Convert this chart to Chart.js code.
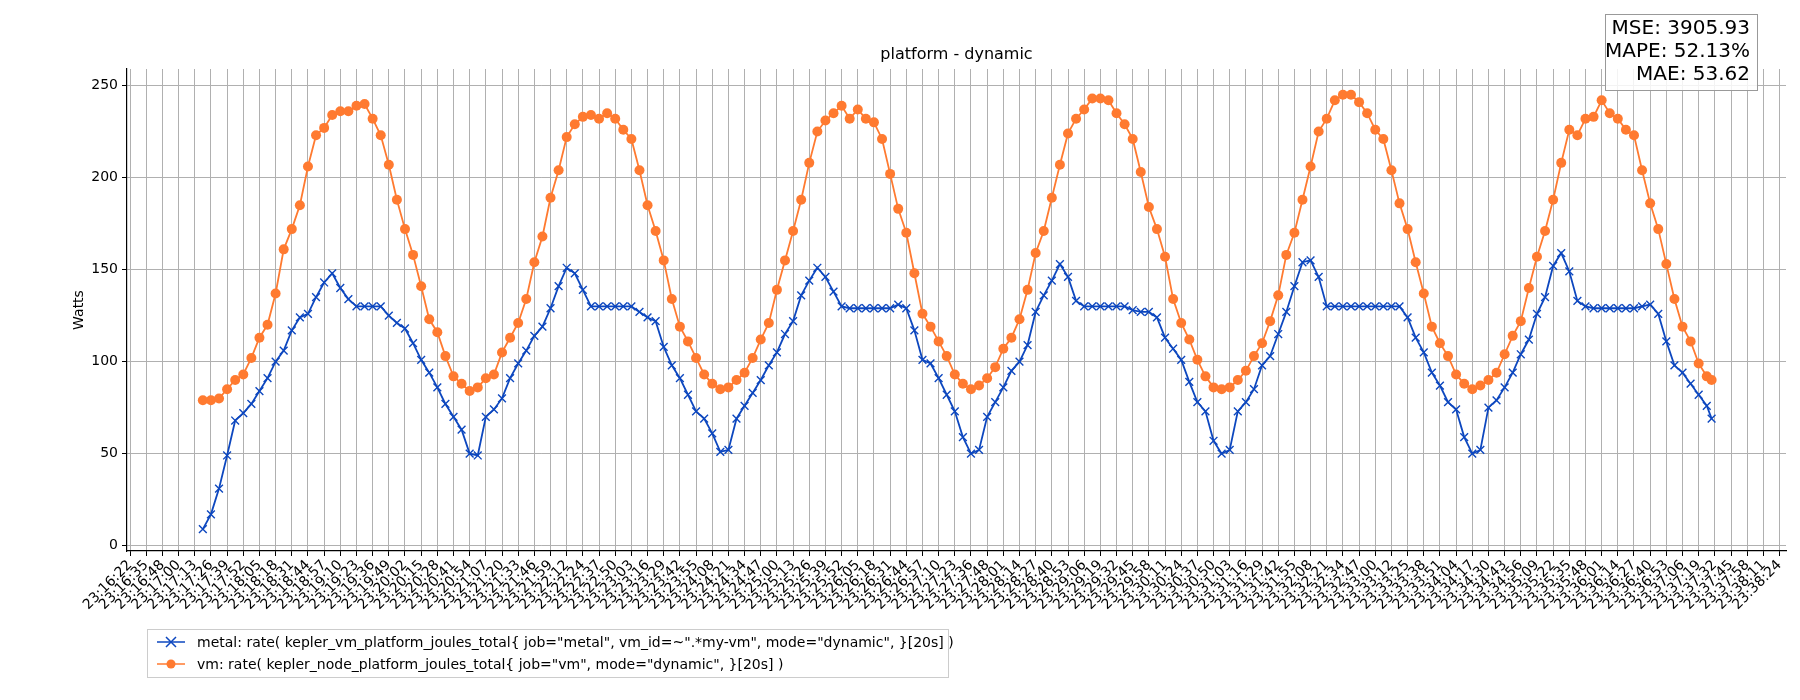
<!DOCTYPE html>
<html><head><meta charset="utf-8">
<script src="https://cdn.jsdelivr.net/npm/chart.js@4/dist/chart.umd.min.js"></script>
<style>html,body{margin:0;padding:0;background:#fff}#c{display:block}</style>
</head><body>
<canvas id="c" width="1800" height="700"></canvas>
<script>
const tickLabels = ["23:16:22","23:16:35","23:16:48","23:17:00","23:17:13","23:17:26","23:17:39","23:17:52","23:18:05","23:18:18","23:18:31","23:18:44","23:18:57","23:19:10","23:19:23","23:19:36","23:19:49","23:20:02","23:20:15","23:20:28","23:20:41","23:20:54","23:21:07","23:21:20","23:21:33","23:21:46","23:21:59","23:22:12","23:22:24","23:22:37","23:22:50","23:23:03","23:23:16","23:23:29","23:23:42","23:23:55","23:24:08","23:24:21","23:24:34","23:24:47","23:25:00","23:25:13","23:25:26","23:25:39","23:25:52","23:26:05","23:26:18","23:26:31","23:26:44","23:26:57","23:27:10","23:27:23","23:27:36","23:27:48","23:28:01","23:28:14","23:28:27","23:28:40","23:28:53","23:29:06","23:29:19","23:29:32","23:29:45","23:29:58","23:30:11","23:30:24","23:30:37","23:30:50","23:31:03","23:31:16","23:31:29","23:31:42","23:31:55","23:32:08","23:32:21","23:32:34","23:32:47","23:33:00","23:33:12","23:33:25","23:33:38","23:33:51","23:34:04","23:34:17","23:34:30","23:34:43","23:34:56","23:35:09","23:35:22","23:35:35","23:35:48","23:36:01","23:36:14","23:36:27","23:36:40","23:36:53","23:37:06","23:37:19","23:37:32","23:37:45","23:37:58","23:38:11","23:38:24"];

const metalValues = [9,17,31,49,68,72,77,84,91,100,106,117,124,126,135,143,148,140,134,130,130,130,130,125,121,118,110,101,94,86,77,70,63,50,49,70,74,80,91,99,106,114,119,129,141,151,148,139,130,130,
130,130,130,130,127,124,122,108,98,91,82,73,69,61,51,52,69,76,83,90,98,105,115,122,136,144,151,146,138,130,129,129,129,129,129,129,131,129,117,101,99,91,82,73,59,50,52,70,78,86,95,
100,109,127,136,144,153,146,133,130,130,130,130,130,130,128,127,127,124,113,107,101,89,78,73,57,50,52,73,78,85,98,103,115,127,141,154,155,146,130,130,130,130,130,130,130,130,130,130,124,113,105,
94,87,78,74,59,50,52,75,79,86,94,104,112,126,135,152,159,149,133,130,129,129,129,129,129,129,130,131,126,111,98,94,88,82,76,69];

const vmValues = [79,79,80,85,90,93,102,113,120,137,161,172,185,206,223,227,234,236,236,239,240,232,223,207,188,172,158,141,123,116,103,92,88,84,86,91,93,105,113,121,134,154,168,189,204,222,229,233,234,232,
235,232,226,221,204,185,171,155,134,119,111,102,93,88,85,86,90,94,102,112,121,139,155,171,188,208,225,231,235,239,232,237,232,230,221,202,183,170,148,126,119,111,103,93,88,85,87,91,97,107,113,
123,139,159,171,189,207,224,232,237,243,243,242,235,229,221,203,184,172,157,134,121,112,101,92,86,85,86,90,95,103,110,122,136,158,170,188,206,225,232,242,245,245,241,235,226,221,204,186,172,154,137,
119,110,103,93,88,85,87,90,94,104,114,122,140,157,171,188,208,226,223,232,233,242,235,232,226,223,204,186,172,153,134,119,111,99,92,90];

const seriesNames = [
 'metal: rate( kepler_vm_platform_joules_total{ job="metal", vm_id=~".*my-vm", mode="dynamic", }[20s] )',
 'vm: rate( kepler_node_platform_joules_total{ job="vm", mode="dynamic", }[20s] )'
];
const statsLines = ["MSE: 3905.93","MAPE: 52.13%","MAE: 53.62"];
const yTicks = [0,50,100,150,200,250];

// sample positions in tick-index units (~6.5 s apart), last sample slightly later
const xs = [];
for (let i = 0; i < metalValues.length - 1; i++) xs.push(4.5 + 0.5 * i);
xs.push(97.8);

const BLUE = '#0d47bf', ORANGE = '#ff7a30';
const FONT = 'DejaVu Sans';

const overlay = {
  id: 'overlay',
  afterDraw(chart) {
    const ctx = chart.ctx, a = chart.chartArea;
    ctx.save();
    ctx.fillStyle = '#000';
    ctx.font = `16px "${FONT}"`;
    ctx.textAlign = 'center'; ctx.textBaseline = 'bottom';
    ctx.fillText('platform - dynamic', (a.left + a.right) / 2, a.top - 6);
    // y title
    ctx.save();
    ctx.translate(79, (a.top + a.bottom) / 2);
    ctx.rotate(-Math.PI / 2);
    ctx.font = `14px "${FONT}"`; ctx.textBaseline = 'middle';
    ctx.fillText('Watts', 0, 0);
    ctx.restore();
    // stats box
    ctx.font = `20px "${FONT}"`;
    const bx = 1605, by = 14, bw = 152, bh = 76;
    ctx.fillStyle = 'rgba(255,255,255,0.85)';
    ctx.fillRect(bx, by, bw, bh);
    ctx.strokeStyle = '#999'; ctx.lineWidth = 1;
    ctx.strokeRect(bx + 0.5, by + 0.5, bw, bh);
    ctx.fillStyle = '#000'; ctx.textAlign = 'right'; ctx.textBaseline = 'middle';
    statsLines.forEach((t, i) => ctx.fillText(t, bx + bw - 7, by + 15 + i * 23));
    // legend
    const lx = 147, ly = 629, lw = 801, lh = 48;
    ctx.fillStyle = '#fff'; ctx.fillRect(lx, ly, lw, lh);
    ctx.strokeStyle = '#ccc'; ctx.strokeRect(lx + 0.5, ly + 0.5, lw, lh);
    ctx.font = `14px "${FONT}"`; ctx.textAlign = 'left'; ctx.fillStyle = '#000';
    [[BLUE, 'x'], [ORANGE, 'o']].forEach(([c, m], i) => {
      const yy = ly + 13 + i * 22;
      ctx.strokeStyle = c; ctx.lineWidth = 1.5;
      ctx.beginPath(); ctx.moveTo(lx + 10, yy); ctx.lineTo(lx + 38, yy); ctx.stroke();
      if (m === 'x') {
        ctx.beginPath(); ctx.moveTo(lx + 19, yy - 5); ctx.lineTo(lx + 29, yy + 5);
        ctx.moveTo(lx + 29, yy - 5); ctx.lineTo(lx + 19, yy + 5); ctx.stroke();
      } else {
        ctx.fillStyle = c; ctx.beginPath(); ctx.arc(lx + 24, yy, 4.5, 0, Math.PI * 2); ctx.fill();
      }
      ctx.fillStyle = '#000'; ctx.textBaseline = 'middle';
      ctx.fillText(seriesNames[i], lx + 50, yy + 1);
    });
    ctx.restore();
  }
};

new Chart(document.getElementById('c'), {
  type: 'line',
  data: {
    datasets: [
      { label: seriesNames[0], data: xs.map((x, i) => ({ x, y: metalValues[i] })),
        borderColor: BLUE, backgroundColor: BLUE, borderWidth: 1.8,
        pointStyle: 'crossRot', pointRadius: 5.5, pointBorderWidth: 1.4, tension: 0 },
      { label: seriesNames[1], data: xs.map((x, i) => ({ x, y: vmValues[i] })),
        borderColor: ORANGE, backgroundColor: ORANGE, borderWidth: 1.8,
        pointStyle: 'circle', pointRadius: 5, pointBorderWidth: 0, tension: 0 }
    ]
  },
  options: {
    responsive: false, animation: false, devicePixelRatio: 1,
    layout: { padding: { top: 69, right: 14, left: 0, bottom: 0 } },
    plugins: { legend: { display: false }, tooltip: { enabled: false } },
    scales: {
      x: {
        type: 'linear', min: -0.19, max: 102.4,
        afterBuildTicks: s => { s.ticks = tickLabels.map((_, i) => ({ value: i })); },
        afterFit: s => { s.height = 149; },
        ticks: { autoSkip: false, maxRotation: 45, minRotation: 45, color: '#000',
                 font: { family: FONT, size: 14 }, padding: 1,
                 callback: v => tickLabels[v] },
        grid: { color: '#b0b0b0', lineWidth: 1, tickColor: '#000', tickLength: 5 },
        border: { color: '#000', width: 1.2 }
      },
      y: {
        min: -2.9, max: 259,
        afterBuildTicks: s => { s.ticks = yTicks.map(v => ({ value: v })); },
        afterFit: s => { s.width = 127; },
        ticks: { color: '#000', font: { family: FONT, size: 14 }, padding: 4 },
        grid: { color: '#b0b0b0', lineWidth: 1, tickColor: '#000', tickLength: 5 },
        border: { color: '#000', width: 1.2 }
      }
    }
  },
  plugins: [overlay]
});
</script>
</body></html>
